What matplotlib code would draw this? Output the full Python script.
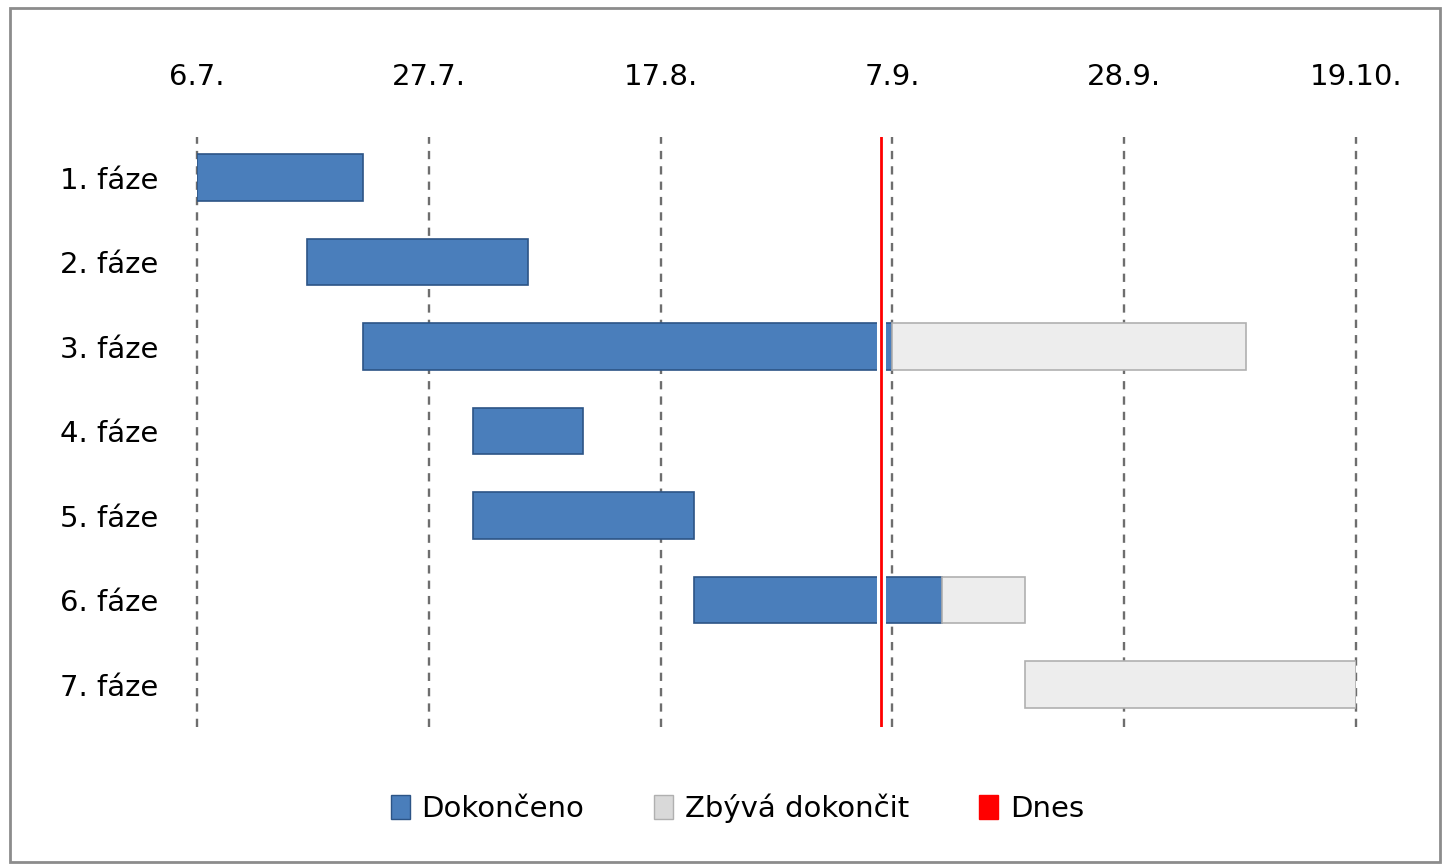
import matplotlib
matplotlib.use("Agg")
import matplotlib.pyplot as plt
import matplotlib.dates as mdates
from matplotlib.patches import Rectangle, Patch
from matplotlib.ticker import FuncFormatter
from datetime import datetime

# Data
phases = ['1. fáze', '2. fáze', '3. fáze', '4. fáze', '5. fáze', '6. fáze', '7. fáze']
starts = ['2011-07-06', '2011-07-16', '2011-07-21', '2011-07-31',
          '2011-07-31', '2011-08-20', '2011-09-19']
done_days = [15, 20, 48, 10, 20, 22.5, 0]
remaining_days = [0, 0, 32, 0, 0, 7.5, 30]
today = '2011-09-06'
tick_dates = ['2011-07-06', '2011-07-27', '2011-08-17', '2011-09-07',
              '2011-09-28', '2011-10-19']

plt.rcParams['font.family'] = ['DejaVu Sans']

fig = plt.figure(figsize=(14.43, 8.67), dpi=100)
ax = fig.add_axes([0.1365, 0.1615, 0.8032, 0.6805])

start_num = [mdates.date2num(datetime.strptime(s, '%Y-%m-%d')) for s in starts]
blue = '#4a7ebb'
gray = '#ededed'

# dokonceno / zbyva - jen nenulove useky
for i, (s, d, r) in enumerate(zip(start_num, done_days, remaining_days)):
    if d > 0:
        ax.barh(i, d, left=s, height=0.55, color=blue,
                edgecolor='#2c5486', linewidth=1.2, zorder=3)
    if r > 0:
        ax.barh(i, r, left=s + d, height=0.55, color=gray,
                edgecolor='#b0b0b0', linewidth=1.2, zorder=3)

t = mdates.date2num(datetime.strptime(today, '%Y-%m-%d'))
ax.axvline(t, color='white', lw=6.5, zorder=4)
ax.axvline(t, color='#ff0000', lw=2, zorder=5)

ticks = [mdates.date2num(datetime.strptime(d, '%Y-%m-%d')) for d in tick_dates]
ax.set_xticks(ticks)
ax.xaxis.set_major_formatter(FuncFormatter(
    lambda v, p: f"{mdates.num2date(v).day}.{mdates.num2date(v).month}."))
ax.set_xlim(ticks[0], ticks[-1])
ax.xaxis.tick_top()
ax.tick_params(axis='x', length=0, pad=33, labelsize=21)
ax.set_yticks(range(len(phases)))
ax.set_yticklabels(phases)
ax.set_ylim(6.5, -0.48)
ax.tick_params(axis='y', length=0, pad=28, labelsize=21)
ax.grid(axis='x', color='#6e6e6e', linestyle=(0, (3.5, 3)), linewidth=1.7, zorder=1)
for gl in ax.get_xgridlines():
    gl.set_clip_on(False)
ax.set_axisbelow(True)
for s in ax.spines.values():
    s.set_visible(False)

handles = [Patch(facecolor=blue, edgecolor='#2c5486'),
           Patch(facecolor='#d9d9d9', edgecolor='#b0b0b0'),
           Patch(facecolor='#ff0000', edgecolor='#ff0000')]
fig.legend(handles, ['Dokončeno', 'Zbývá dokončit', 'Dnes'],
           loc='center', bbox_to_anchor=(0.511, 0.068), ncol=3, frameon=False,
           fontsize=21, handlelength=0.65, handleheight=0.9,
           handletextpad=0.4, columnspacing=2.4)

# ramecek grafu
fig.patches.append(Rectangle((0.007, 0.006), 0.991, 0.985, transform=fig.transFigure,
                             fill=False, edgecolor='#8c8c8c', lw=2))

fig.savefig('out.png', dpi=100)
